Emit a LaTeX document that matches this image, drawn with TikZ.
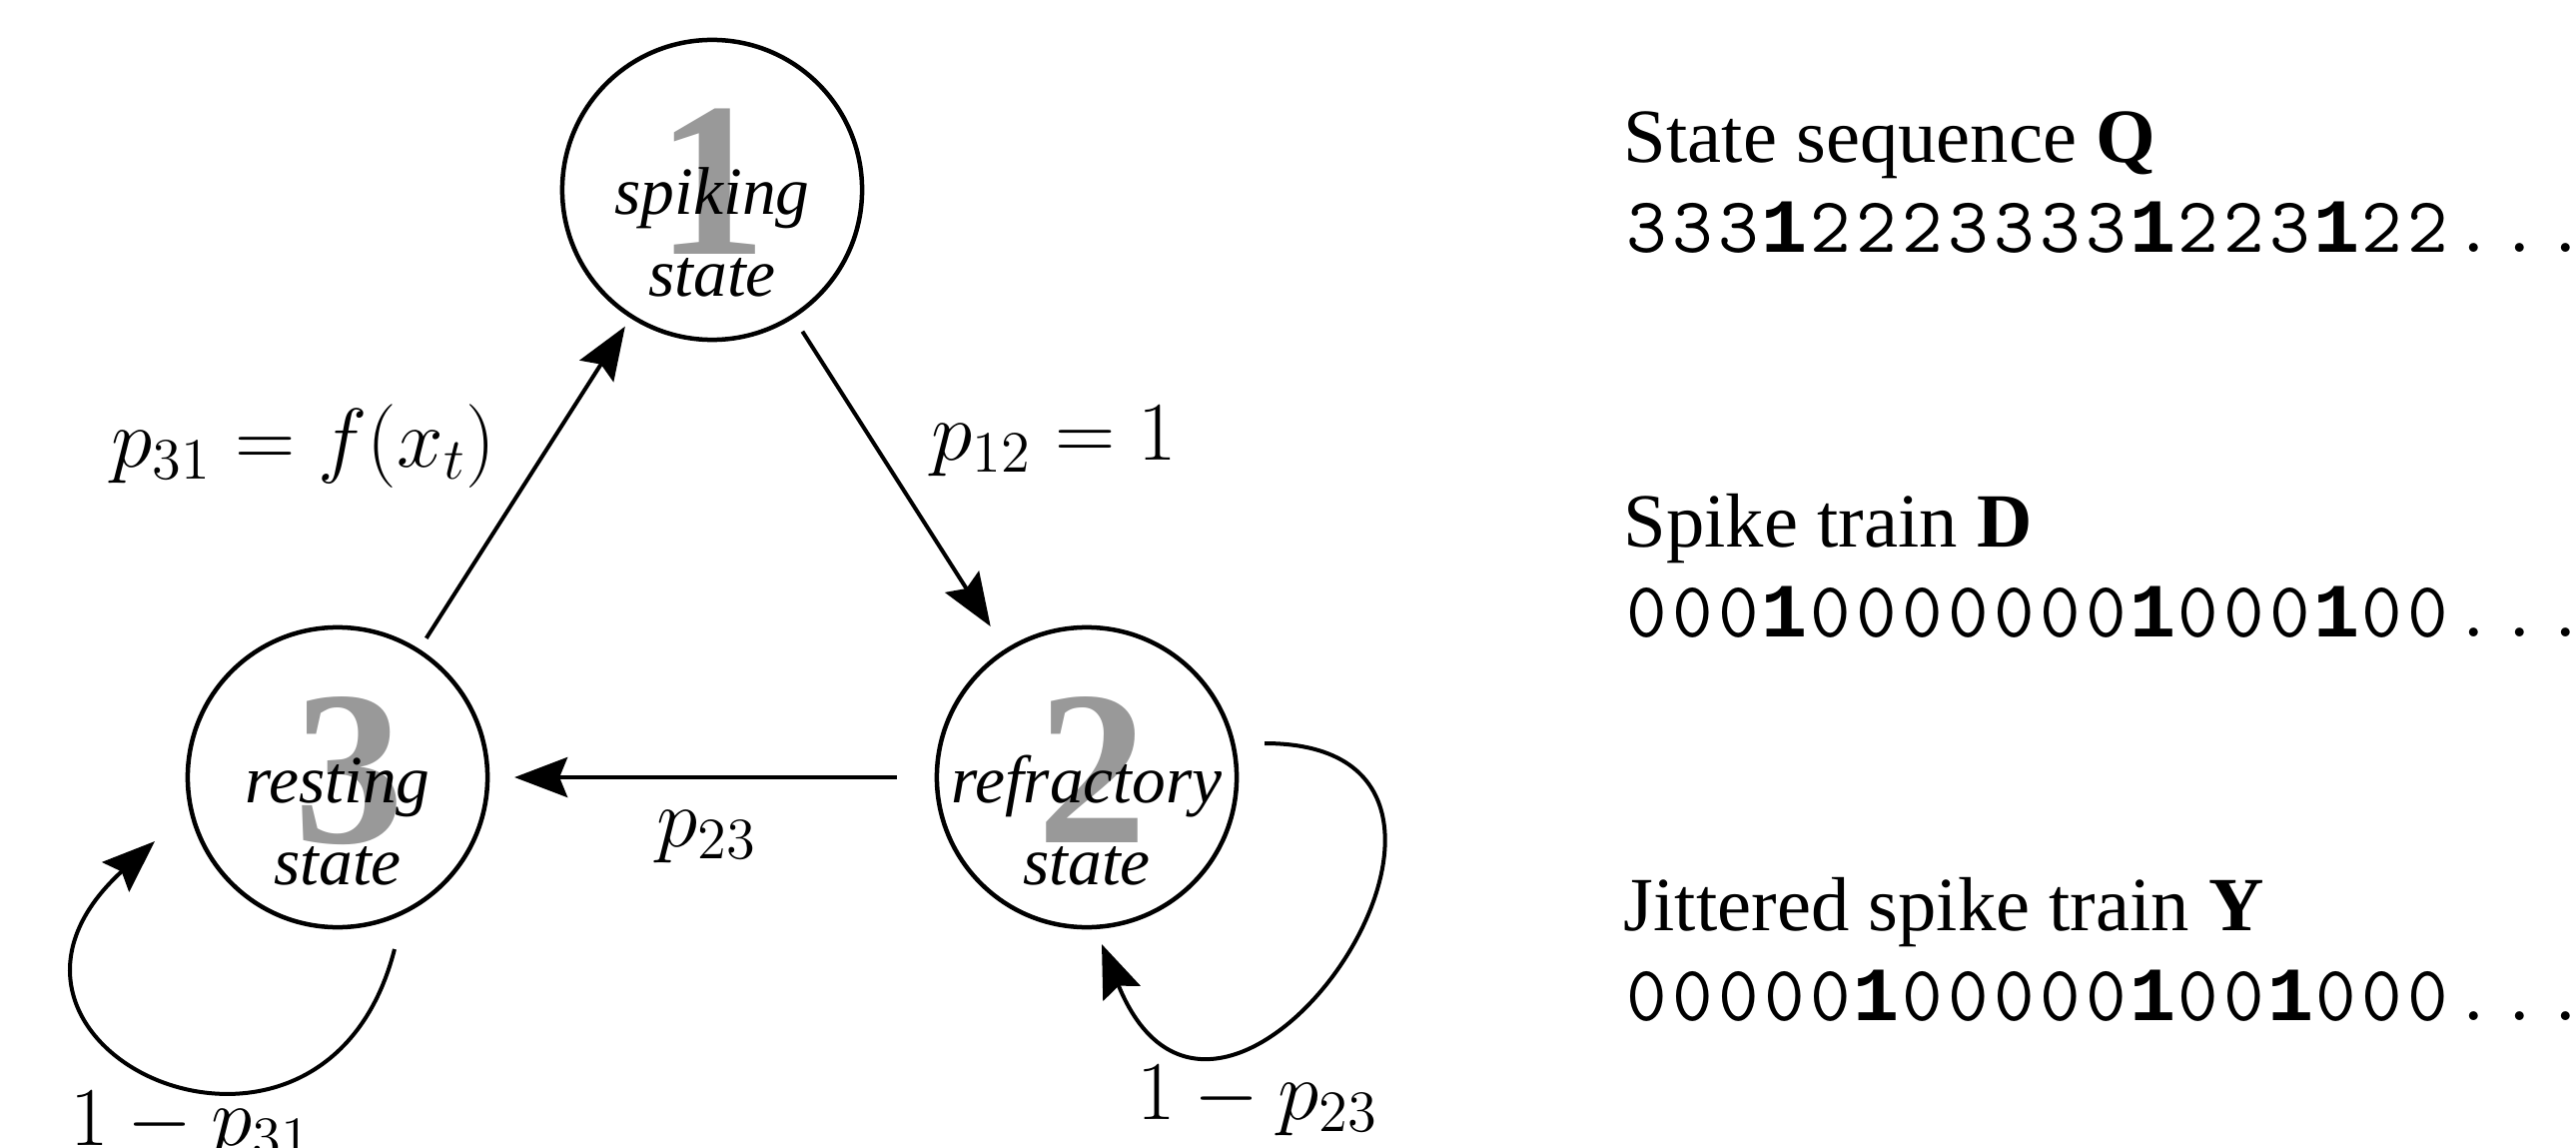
\RequirePackage{fix-cm}
\documentclass[tikz,border=0pt]{standalone}
\usepackage{fontspec}
\setmainfont{Liberation Serif}
\newfontfamily\libmono{Liberation Mono}
\usetikzlibrary{arrows.meta,calc}
\definecolor{numgray}{gray}{0.6}
\newcommand\mysize{\fontsize{21.8pt}{26pt}\selectfont}
\newcommand\mathsz{\fontsize{23.8pt}{28pt}\selectfont}
\newcommand\stsize{\fontsize{19.2pt}{23pt}\selectfont\itshape}
\newcommand\numsize{\fontsize{62.7pt}{70pt}\selectfont\bfseries}
\newcommand\ltt{\fontsize{22.4pt}{26pt}\selectfont\ttfamily}
\newcommand\btt{\fontsize{21.8pt}{26pt}\selectfont\libmono\bfseries}
\def\seqloop#1{\ifx#1\relax\else\ifx#1!\makebox[0.46cm]{\btt 1}\else\makebox[0.46cm]{\ltt #1}\fi\expandafter\seqloop\fi}
\newcommand\seqline[1]{\seqloop#1\relax}
\tikzset{
  statenode/.style={circle, draw, line width=0.045cm, minimum size=3cm, inner sep=0pt, outer sep=0pt},
  arr/.style={line width=0.04cm, -{Stealth[length=0.53cm,width=0.40cm,inset=0.08cm]}},
  lbl/.style={inner sep=0pt, anchor=base, font=\stsize},
  num/.style={inner sep=0pt, anchor=base, font=\numsize, text=numgray},
  mlab/.style={inner sep=0pt, font=\mathsz},
  txt/.style={inner sep=0pt, anchor=base west, font=\mysize},
}
\begin{document}
\begin{tikzpicture}[x=0.01cm,y=-0.01cm]
\useasboundingbox (0,0) rectangle (2579,1149);
% states
\node[statenode] (c1) at (713,190) {};
\node[statenode] (c2) at (1088,778) {};
\node[statenode] (c3) at (338,778) {};
% big numerals
\node[num] (n1) at ($(c1)+(0,65)$) {1};
\node[num] (n2) at ($(c2)+(6,65)$) {2};
\node[num] (n3) at ($(c3)+(12,65)$) {3};
% state texts
\node[lbl] (t1a) at ($(c1)+(0,25)$) {spiking};
\node[lbl] (t1b) at ($(c1)+(0,107)$) {state};
\node[lbl] (t2a) at ($(c2)+(0,25)$) {refractory};
\node[lbl] (t2b) at ($(c2)+(0,107)$) {state};
\node[lbl] (t3a) at ($(c3)+(0,25)$) {resting};
\node[lbl] (t3b) at ($(c3)+(0,107)$) {state};
% transitions
\draw[arr, shorten <=0.15cm, shorten >=0.12cm] (c3) -- (c1);
\draw[arr, shorten <=0.18cm, shorten >=0.29cm] (c1) -- (c2);
\draw[arr, shorten <=0.40cm, shorten >=0.27cm] (c2) -- (c3);
% self loops
\coordinate (l2s) at ($(c2)+(178,-34)$);
\coordinate (l2e) at ($(c2)+(15,167)$);
\draw[arr] (l2s) .. controls +(300,0) and +(122,300) .. (l2e);
\coordinate (l3s) at ($(c3)+(57,172)$);
\coordinate (l3e) at ($(c3)+(-183,64)$);
\draw[arr] (l3s) .. controls +(-72,281) and +(-225,205) .. (l3e);
% labels
\node[mlab, anchor=base east] (l31) at (497,467) {$p_{31} = f(x_t)$};
\node[mlab, anchor=base west] (l12) at (932,460) {$p_{12} = 1$};
\node[mlab, anchor=base west] (l23) at (657,847) {$p_{23}$};
\node[mlab, anchor=base west] (l22) at (1138,1120) {$1 - p_{23}$};
\node[mlab, anchor=base west] (l33) at (70,1146) {$1 - p_{31}$};
% sequences
\node[txt] (hq) at (1625,163) {State sequence \textbf{Q}};
\node[txt] (sq) at (1625,253) {\seqline{333!2223333!223!22...}};
\node[txt] (hd) at (1625,547) {Spike train \textbf{D}};
\node[txt] (sd) at (1625,637) {\seqline{000!0000000!000!00...}};
\node[txt] (hy) at (1625,931) {Jittered spike train \textbf{Y}};
\node[txt] (sy) at (1625,1021) {\seqline{00000!00000!00!000...}};
\end{tikzpicture}
\end{document}
